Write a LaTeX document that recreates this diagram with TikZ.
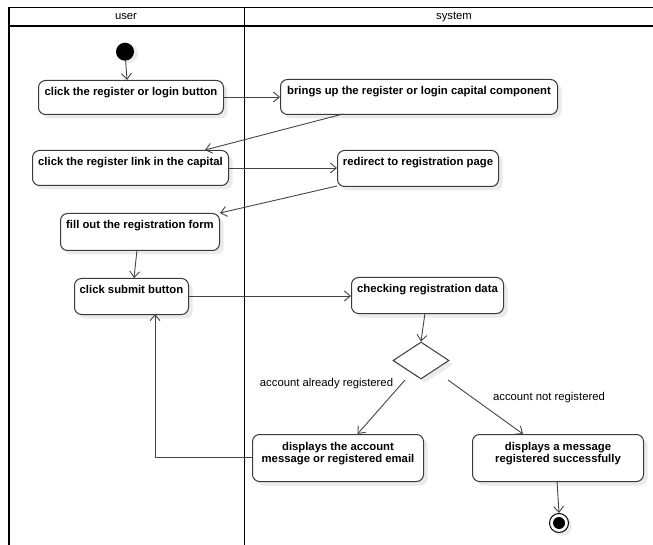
\documentclass[tikz,border=0pt]{standalone}
\usepackage{fontspec}
\setmainfont{Liberation Sans}
\usetikzlibrary{arrows.meta,shadows,shapes.geometric}
\definecolor{edge}{HTML}{444444}
\definecolor{boxline}{HTML}{3A3A3A}
\tikzset{
  actbox/.style={draw=boxline, line width=1pt, rounded corners=7pt, fill=white,
    anchor=north west, inner sep=0pt,
    drop shadow={shadow xshift=4pt, shadow yshift=-4pt, fill=black, opacity=0.08}},
  acttext/.style={anchor=north, font=\fontsize{11.3}{12}\selectfont\bfseries, align=center, inner sep=0pt},
  lbl/.style={font=\fontsize{11.3}{13}\selectfont, inner sep=0pt, anchor=base},
  flow/.style={draw=edge, line width=0.9pt, -{Straight Barb[length=6pt,width=10pt]}},
  lane/.style={draw=black, line width=1.8pt},
}
\begin{document}
\begin{tikzpicture}[x=1pt,y=-1pt]
\useasboundingbox (0,0) rectangle (653,545);
% swimlanes
\draw[lane] (653,7.5) -- (9,7.5) -- (9,545);
\draw[lane] (9,25.7) -- (653,25.7);
\draw[lane] (244.5,7.5) -- (244.5,545);
\node[lbl] (hu) at (126,20) {user};
\node[lbl] (hs) at (454,20) {system};

% start
\fill[black!8] (129,54) circle (9);
\node[circle, fill=black, minimum size=18pt, inner sep=0pt] (st) at (125,51.7) {};

% activity boxes
\node[actbox, minimum width=185pt, minimum height=34pt] (a) at (38,80) {};
\node[acttext] (at) at ([yshift=-7]a.north) {click the register or login button};
\node[actbox, minimum width=277pt, minimum height=35pt] (b) at (280,79) {};
\node[acttext] (bt) at ([yshift=-7]b.north) {brings up the register or login capital component};
\node[actbox, minimum width=196pt, minimum height=35pt] (c) at (32,150) {};
\node[acttext] (ct) at ([yshift=-7]c.north) {click the register link in the capital};
\node[actbox, minimum width=161pt, minimum height=36pt] (d) at (337,150) {};
\node[acttext] (dt) at ([yshift=-7]d.north) {redirect to registration page};
\node[actbox, minimum width=159pt, minimum height=37pt] (e) at (60,213) {};
\node[acttext] (et) at ([yshift=-7]e.north) {fill out the registration form};
\node[actbox, minimum width=114pt, minimum height=36pt] (f) at (74,278) {};
\node[acttext] (ft) at ([yshift=-7]f.north) {click submit button};
\node[actbox, minimum width=152pt, minimum height=36pt] (g) at (351,277) {};
\node[acttext] (gt) at ([yshift=-7]g.north) {checking registration data};
\node[actbox, minimum width=171pt, minimum height=47pt] (h) at (252,434) {};
\node[acttext] (ht) at ([yshift=-8]h.north) {displays the account\\message or registered email};
\node[actbox, minimum width=171pt, minimum height=47pt] (i) at (472,434) {};
\node[acttext] (it) at ([yshift=-8]i.north) {displays a message\\registered successfully};

% decision
\node[diamond, draw=boxline, line width=1pt, fill=white, minimum width=56pt, minimum height=37pt, inner sep=0pt,
  aspect=1.5, drop shadow={shadow xshift=4pt, shadow yshift=-4pt, fill=black, opacity=0.08}] (dec) at (421,360.5) {};

% end
\fill[black!8] (562,526) circle (10);
\node[circle, draw=black, line width=1pt, fill=white, minimum size=19pt, inner sep=0pt] (en) at (559,523) {};
\node[circle, fill=black, minimum size=12pt, inner sep=0pt] (enin) at (559,523) {};

% connectors
\draw[flow] (st) -- (127,80);
\draw[flow] (a.east |- 0,97) -- (b.west |- 0,97);
\draw[flow] (343,114) -- (205,150);
\draw[flow] (c.east |- 0,168) -- (d.west |- 0,168);
\draw[flow] (337,186) -- (220,213);
\draw[flow] (137,250) -- (134,278);
\draw[flow] (f.east |- 0,296) -- (g.west |- 0,296);
\draw[flow] (425,313) -- (dec.north);
\coordinate (d1) at (405,380);
\coordinate (d2) at (448,380);
\draw[flow] (d1) -- (357.5,434);
\draw[flow] (d2) -- (523,434);
\coordinate (bend) at (155,457);
\draw[flow] (h.west |- 0,457) -- (bend) -- (155,314);
\draw[flow] (557,481) -- (en.north);

\node[lbl] (l1) at (326.5,386) {account already registered};
\node[lbl] (l2) at (549,400) {account not registered};
\end{tikzpicture}
\end{document}
